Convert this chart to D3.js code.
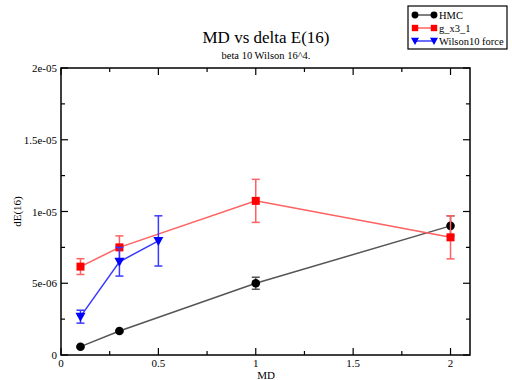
<!DOCTYPE html>
<html>
<head>
<meta charset="utf-8">
<script src="https://cdn.jsdelivr.net/npm/d3@7"></script>
<style>
  body { margin: 0; background: #fff; }
  svg text { font-family: "Liberation Serif", "Times New Roman", serif; fill: #000; }
</style>
</head>
<body>
<div id="chart"></div>
<script>
// data
const seriesNames = ["HMC", "g_x3_1", "Wilson10 force"];
const hmcX = [0.1, 0.3, 1, 2];
const hmcY = [0.58e-6, 1.67e-6, 5.0e-6, 9.0e-6];
const hmcErr = [0.05e-6, 0.05e-6, 0.42e-6, 0.7e-6];
const gx3X = [0.1, 0.3, 1, 2];
const gx3Y = [6.16e-6, 7.5e-6, 10.74e-6, 8.2e-6];
const gx3Err = [0.55e-6, 0.8e-6, 1.5e-6, 1.5e-6];
const wilX = [0.1, 0.3, 0.5];
const wilY = [2.67e-6, 6.5e-6, 7.95e-6];
const wilErr = [0.45e-6, 1.0e-6, 1.75e-6];
const xTicks = [0, 0.5, 1, 1.5, 2];
const xTickLabels = ["0", "0.5", "1", "1.5", "2"];
const yTicks = [0, 5e-6, 1e-5, 1.5e-5, 2e-5];
const yTickLabels = ["0", "5e-06", "1e-05", "1.5e-05", "2e-05"];

const width = 512, height = 380;
const pLeft = 61, pRight = 470, pTop = 68, pBottom = 355;

const svg = d3.select("#chart").append("svg").attr("width", width).attr("height", height);

const x = d3.scaleLinear().domain([0, 2.1]).range([pLeft, pRight]);
const y = d3.scaleLinear().domain([0, 2e-5]).range([pBottom, pTop]);

// ticks (inward, on all four sides)
const xMinor = d3.range(0, 2.1, 0.25).filter(v => !xTicks.includes(v));
const yMinor = d3.range(2.5e-6, 2e-5, 5e-6);

function xtick(v, len) {
  svg.append("line").attr("x1", x(v)).attr("x2", x(v)).attr("y1", pBottom).attr("y2", pBottom - len).attr("stroke", "#000").attr("stroke-width", 1.2);
  svg.append("line").attr("x1", x(v)).attr("x2", x(v)).attr("y1", pTop).attr("y2", pTop + len).attr("stroke", "#000").attr("stroke-width", 1.2);
}
function ytick(v, len) {
  svg.append("line").attr("y1", y(v)).attr("y2", y(v)).attr("x1", pLeft).attr("x2", pLeft + len).attr("stroke", "#000").attr("stroke-width", 1.2);
  svg.append("line").attr("y1", y(v)).attr("y2", y(v)).attr("x1", pRight).attr("x2", pRight - len).attr("stroke", "#000").attr("stroke-width", 1.2);
}
xTicks.forEach(v => xtick(v, 7));
xMinor.forEach(v => xtick(v, 4));
yTicks.forEach(v => ytick(v, 7));
yMinor.forEach(v => ytick(v, 4));

svg.append("rect")
  .attr("x", pLeft).attr("y", pTop)
  .attr("width", pRight - pLeft).attr("height", pBottom - pTop)
  .attr("fill", "none").attr("stroke", "#000").attr("stroke-width", 1.5);

svg.selectAll(".xl").data(xTicks).enter().append("text")
  .attr("x", d => x(d)).attr("y", pBottom + 12)
  .attr("text-anchor", "middle").attr("font-size", 11)
  .text((d, i) => xTickLabels[i]);

svg.selectAll(".yl").data(yTicks).enter().append("text")
  .attr("x", pLeft - 4).attr("y", d => y(d) + 4)
  .attr("text-anchor", "end").attr("font-size", 11)
  .text((d, i) => yTickLabels[i]);

svg.append("text").attr("x", 266).attr("y", 379)
  .attr("text-anchor", "middle").attr("font-size", 11).text("MD");
svg.append("text").attr("transform", "translate(21," + ((pTop + pBottom) / 2) + ") rotate(-90)")
  .attr("text-anchor", "middle").attr("font-size", 11).text("dE(16)");

svg.append("text").attr("x", 266).attr("y", 43)
  .attr("text-anchor", "middle").attr("font-size", 17).text("MD vs delta E(16)");
svg.append("text").attr("x", 266).attr("y", 59)
  .attr("text-anchor", "middle").attr("font-size", 10.5).text("beta 10 Wilson 16^4.");

const series = [
  { xs: hmcX, ys: hmcY, es: hmcErr, line: "#555", mark: "#000", shape: "circle" },
  { xs: gx3X, ys: gx3Y, es: gx3Err, line: "#ff6060", mark: "#ff0000", shape: "square" },
  { xs: wilX, ys: wilY, es: wilErr, line: "#3a3aff", mark: "#0000ff", shape: "tri" }
];

function marker(g, shape, color, cx, cy, k) {
  k = k || 1;
  if (shape === "circle") {
    g.append("circle").attr("cx", cx).attr("cy", cy).attr("r", 4.3 * k).attr("fill", color);
  } else if (shape === "square") {
    g.append("rect").attr("x", cx - 4 * k).attr("y", cy - 4 * k).attr("width", 8 * k).attr("height", 8 * k).attr("fill", color);
  } else {
    g.append("path").attr("d", `M${cx - 5 * k},${cy - 4 * k}L${cx + 5 * k},${cy - 4 * k}L${cx},${cy + 5 * k}Z`).attr("fill", color);
  }
}

series.forEach(s => {
  const g = svg.append("g");
  const pts = s.xs.map((v, i) => [v, s.ys[i], s.es[i]]);
  g.append("path").datum(pts)
    .attr("d", d3.line().x(d => x(d[0])).y(d => y(d[1])))
    .attr("fill", "none").attr("stroke", s.line).attr("stroke-width", 1.5);
  pts.forEach(p => {
    const cx = x(p[0]);
    g.append("line").attr("x1", cx).attr("x2", cx).attr("y1", y(p[1] - p[2])).attr("y2", y(p[1] + p[2]))
      .attr("stroke", s.line).attr("stroke-width", 1.5);
    [p[1] - p[2], p[1] + p[2]].forEach(v => {
      g.append("line").attr("x1", cx - 4).attr("x2", cx + 4).attr("y1", y(v)).attr("y2", y(v))
        .attr("stroke", s.line).attr("stroke-width", 1.5);
    });
    marker(g, s.shape, s.mark, cx, y(p[1]));
  });
});

// legend
const lg = svg.append("g");
lg.append("rect").attr("x", 408).attr("y", 6).attr("width", 99).attr("height", 43)
  .attr("fill", "#fff").attr("stroke", "#000").attr("stroke-width", 1.2);
seriesNames.forEach((name, i) => {
  const ly = 15 + i * 13;
  const s = series[i];
  lg.append("line").attr("x1", 415).attr("x2", 434).attr("y1", ly).attr("y2", ly)
    .attr("stroke", s.line).attr("stroke-width", 1.5);
  marker(lg, s.shape, s.mark, 415, ly, 0.8);
  marker(lg, s.shape, s.mark, 434, ly, 0.8);
  lg.append("text").attr("x", 439).attr("y", ly + 4).attr("font-size", 10.5).text(name);
});
</script>
</body>
</html>
